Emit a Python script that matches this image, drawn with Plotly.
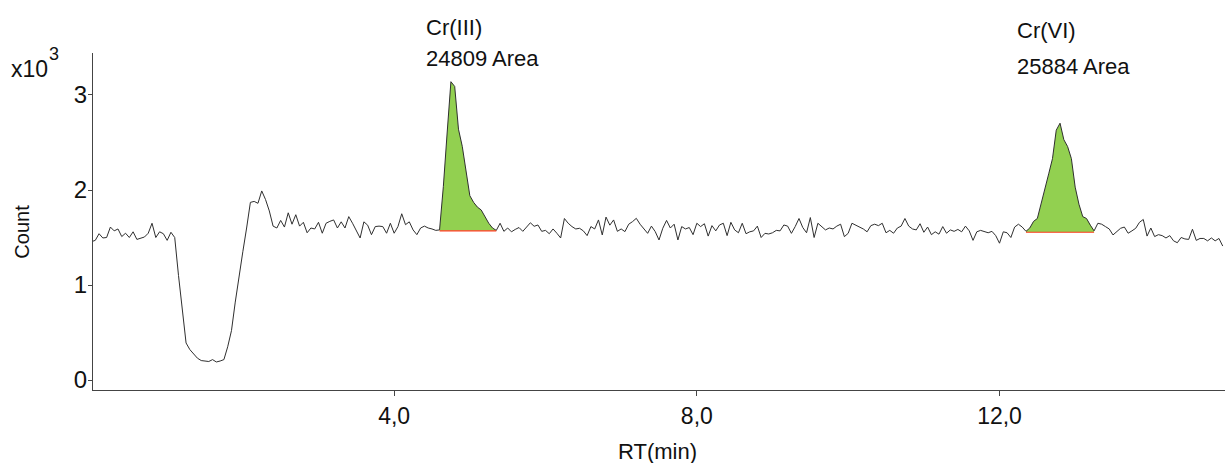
import numpy as np
import plotly.graph_objects as go

# ---- data ----
rt_step = 0.05  # sampling interval of the chromatogram (min)
counts = [
    1456, 1470, 1540, 1495, 1500, 1610, 1570, 1590, 1510, 1545,   # 0.00-0.45
    1500, 1560, 1480, 1495, 1505, 1545, 1650, 1500, 1560, 1540,   # 0.50-0.95
    1470, 1555, 1500, 1100, 720, 390, 320, 275, 230, 205,         # 1.00-1.45
    200, 195, 215, 190, 200, 215, 350, 520, 820, 1100,            # 1.50-1.95
    1350, 1600, 1870, 1880, 1860, 1990, 1900, 1780, 1620, 1600,   # 2.00-2.45
    1680, 1610, 1760, 1640, 1740, 1620, 1660, 1550, 1600, 1590,   # 2.50-2.95
    1660, 1545, 1650, 1670, 1685, 1600, 1665, 1600, 1720, 1650,   # 3.00-3.45
    1580, 1495, 1665, 1630, 1530, 1615, 1620, 1615, 1545, 1650,   # 3.50-3.95
    1545, 1615, 1750, 1635, 1665, 1580, 1530, 1600, 1620, 1600,   # 4.00-4.45
    1590, 1575, 1580, 2035, 2600, 3140, 3090, 2640, 2460, 2180,   # 4.50-4.95
    1940, 1870, 1820, 1790, 1720, 1650, 1600, 1575, 1650, 1565,   # 5.00-5.45
    1600, 1560, 1585, 1605, 1565, 1612, 1655, 1618, 1632, 1565,   # 5.50-5.95
    1575, 1540, 1590, 1545, 1495, 1700, 1650, 1615, 1590, 1597,   # 6.00-6.45
    1570, 1520, 1615, 1590, 1685, 1527, 1715, 1630, 1685, 1565,   # 6.50-6.95
    1590, 1562, 1640, 1667, 1702, 1640, 1590, 1544, 1620, 1562,   # 7.00-7.45
    1474, 1597, 1680, 1600, 1640, 1474, 1615, 1590, 1605, 1530,   # 7.50-7.95
    1650, 1615, 1645, 1515, 1625, 1570, 1632, 1650, 1520, 1660,   # 8.00-8.45
    1580, 1550, 1650, 1540, 1560, 1570, 1620, 1500, 1544, 1537,   # 8.50-8.95
    1550, 1575, 1570, 1632, 1620, 1544, 1615, 1700, 1605, 1550,   # 9.00-9.45
    1710, 1500, 1650, 1615, 1580, 1600, 1590, 1620, 1640, 1509,   # 9.50-9.95
    1544, 1650, 1632, 1615, 1590, 1560, 1625, 1640, 1625, 1650,   # 10.00-10.45
    1550, 1575, 1545, 1600, 1620, 1700, 1620, 1590, 1580, 1645,   # 10.50-10.95
    1555, 1610, 1530, 1560, 1535, 1615, 1545, 1580, 1565, 1585,   # 11.00-11.45
    1560, 1620, 1570, 1470, 1560, 1575, 1565, 1550, 1565, 1520,   # 11.50-11.95
    1440, 1560, 1550, 1500, 1610, 1640, 1610, 1565, 1600, 1670,   # 12.00-12.45
    1700, 1850, 2000, 2170, 2330, 2630, 2703, 2530, 2457, 2330,   # 12.50-12.95
    2030, 1850, 1720, 1700, 1630, 1570, 1650, 1640, 1615, 1590,   # 13.00-13.45
    1527, 1560, 1597, 1610, 1545, 1570, 1597, 1660, 1690, 1515,   # 13.50-13.95
    1600, 1510, 1530, 1520, 1495, 1520, 1465, 1445, 1500, 1485,   # 14.00-14.45
    1480, 1587, 1470, 1490, 1490, 1465, 1495, 1465, 1490, 1410,   # 14.50-14.95
]

peak_names = ["Cr(III)", "Cr(VI)"]
peak_areas = [24809, 25884]
peak_start = [4.60, 12.35]
peak_end = [5.35, 13.25]
peak_base = [1570, 1555]

x_tickvals = [4, 8, 12]
y_tickvals = [0, 1000, 2000, 3000]
y_ticktext = ["0", "1", "2", "3"]

# ---- figure ----
rt = np.round(np.arange(len(counts)) * rt_step, 2)
y = np.array(counts, dtype=float)

FONT = "Liberation Sans, Arial, sans-serif"
GREEN = "#92D050"
RED = "#FF3B1F"
LINE = "#2f2f2f"
TXT = "#111111"

fig = go.Figure()

for s, e, b in zip(peak_start, peak_end, peak_base):
    m = (rt >= s - 1e-9) & (rt <= e + 1e-9)
    fig.add_trace(go.Scatter(x=[s, e], y=[b, b], mode="lines",
                             line=dict(width=0, color=GREEN),
                             hoverinfo="skip", showlegend=False))
    fig.add_trace(go.Scatter(x=rt[m], y=y[m], mode="lines", fill="tonexty",
                             fillcolor=GREEN, line=dict(width=0, color=GREEN),
                             hoverinfo="skip", showlegend=False))

fig.add_trace(go.Scatter(x=rt, y=y, mode="lines",
                         line=dict(color=LINE, width=1), showlegend=False))

for s, e, b in zip(peak_start, peak_end, peak_base):
    fig.add_trace(go.Scatter(x=[s, e], y=[b, b], mode="lines",
                             line=dict(color=RED, width=1.1),
                             hoverinfo="skip", showlegend=False))

annotations = []
label_x = [4.39, 12.20]
name_y = [1.077, 1.068]
area_y = [0.985, 0.961]
for nm, ar, lx, ny, ay in zip(peak_names, peak_areas, label_x, name_y, area_y):
    annotations.append(dict(x=lx, y=ny, xref="x", yref="paper", text=nm,
                            showarrow=False, xanchor="left", yanchor="middle",
                            font=dict(size=22, color=TXT, family=FONT)))
    annotations.append(dict(x=lx, y=ay, xref="x", yref="paper", text=f"{ar} Area",
                            showarrow=False, xanchor="left", yanchor="middle",
                            font=dict(size=22, color=TXT, family=FONT)))

# axis multiplier "x10^3"
annotations.append(dict(x=-0.0745, y=0.952, xref="paper", yref="paper",
                        text="x10", showarrow=False,
                        xanchor="left", yanchor="middle",
                        font=dict(size=23, color=TXT, family=FONT)))
annotations.append(dict(x=-0.0405, y=0.996, xref="paper", yref="paper",
                        text="3", showarrow=False,
                        xanchor="left", yanchor="middle",
                        font=dict(size=18, color=TXT, family=FONT)))
annotations.append(dict(x=-0.0627, y=0.47, xref="paper", yref="paper",
                        text="Count", textangle=-90, showarrow=False,
                        xanchor="center", yanchor="middle",
                        font=dict(size=20, color=TXT, family=FONT)))
annotations.append(dict(x=0.499, y=-0.183, xref="paper", yref="paper",
                        text="RT(min)", showarrow=False,
                        xanchor="center", yanchor="middle",
                        font=dict(size=22, color=TXT, family=FONT)))

fig.update_layout(
    width=1226, height=463,
    margin=dict(l=93, r=1, t=53, b=73),
    paper_bgcolor="white", plot_bgcolor="white",
    separators=",.",
    showlegend=False,
    annotations=annotations,
    xaxis=dict(range=[0.02, 14.98], showgrid=False, zeroline=False,
               showline=True, linecolor="#444", linewidth=1,
               tickvals=x_tickvals, tickformat=".1f",
               ticks="outside", ticklen=5, tickcolor="#444",
               tickfont=dict(size=23, color=TXT, family=FONT)),
    yaxis=dict(range=[-105, 3442], showgrid=False, zeroline=False,
               showline=True, linecolor="#444", linewidth=1,
               tickvals=y_tickvals, ticktext=y_ticktext,
               ticks="outside", ticklen=4, tickcolor="#444",
               ticklabelstandoff=-4,
               tickfont=dict(size=24, color=TXT, family=FONT)),
)

fig.write_html("out.html")
